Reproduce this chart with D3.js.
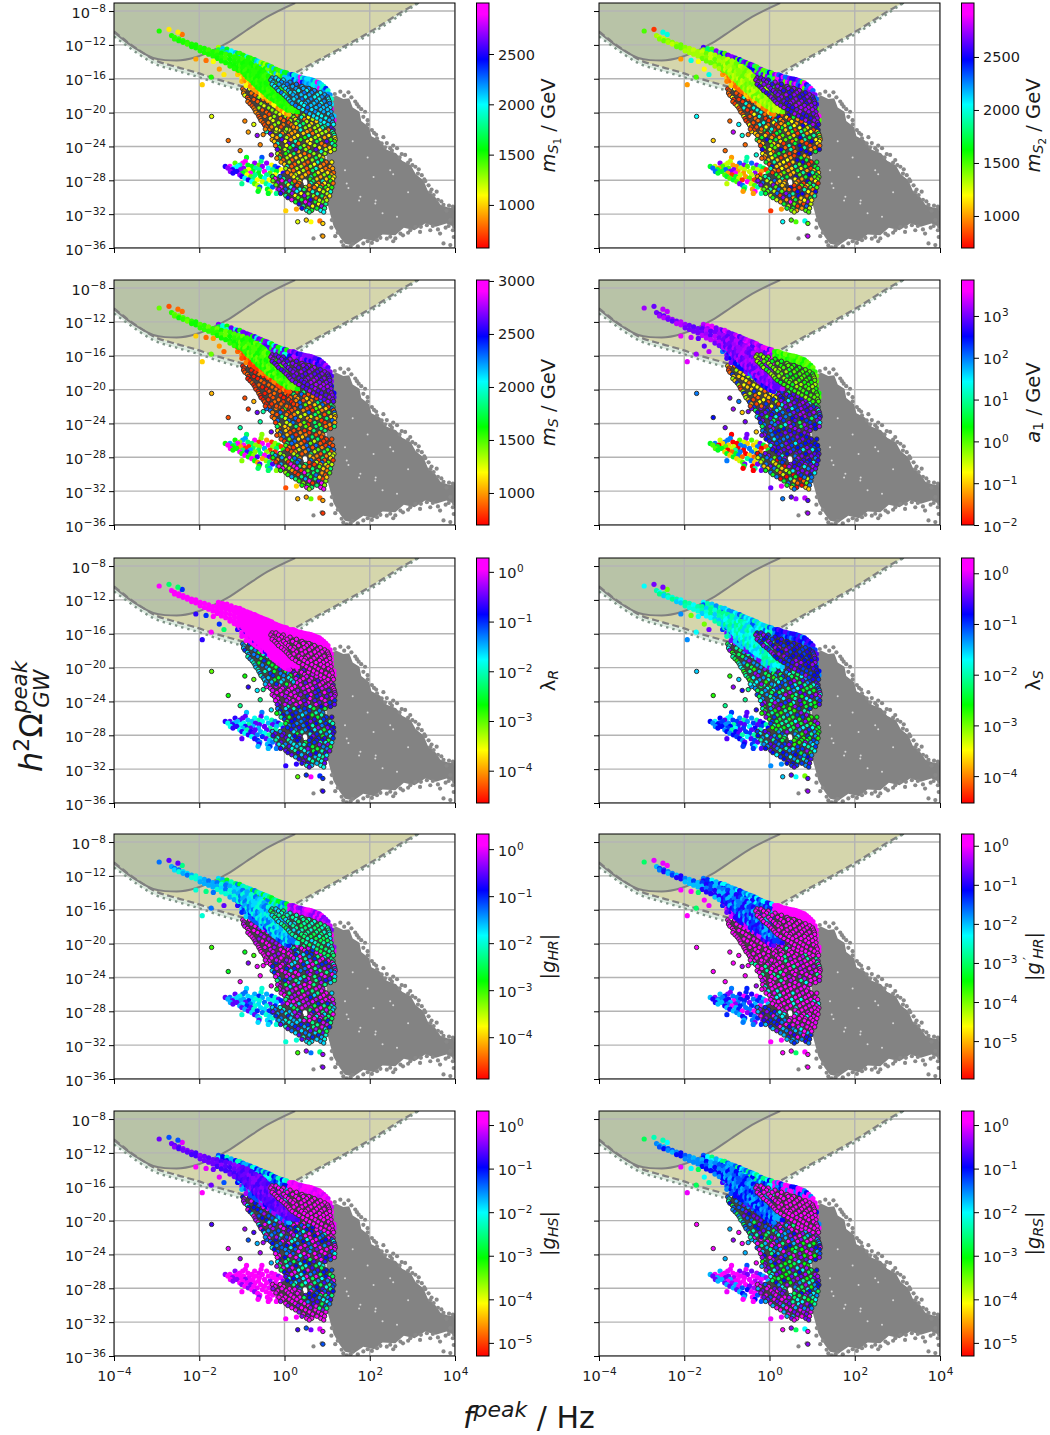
<!DOCTYPE html>
<html>
<head>
<meta charset="utf-8">
<script src="https://d3js.org/d3.v7.min.js"></script>
<style>
body { margin: 0; background: white; }
svg text { font-family: "DejaVu Sans", sans-serif; fill: #1a1a1a; }
</style>
</head>
<body>
<div id="chart"></div>
<script>
// all positions below are log10(f) and log10(h2 Omega)
var xTicks = [-4, -2, 0, 2, 4];
var yTicks = [-8, -12, -16, -20, -24, -28, -32, -36];

// sensitivity curves
var solidCurve = [[-4, -10.5], [-3.7, -11.7], [-3.39, -12.75], [-3.08, -13.55], [-2.8, -13.8], [-2.53, -13.85], [-2.05, -13.4], [-1.5, -12.2], [-1.35, -11.8], [-0.9, -10.3], [-0.41, -8.7], [0.25, -7.05]];
var dashedCurve = [[-4, -10.4], [-3.7, -11.6], [-3.39, -12.7], [-3.08, -13.7], [-2.53, -14.6], [-2.05, -15.3], [-1.75, -15.8], [-1.35, -16.4], [-0.6, -17.2], [-0.2, -16.6], [0.29, -15.2], [2.01, -10.45], [3.07, -7.2], [3.15, -7.0]];
var dottedCurve = [[-4, -11], [-3.7, -12.1], [-3.39, -13.2], [-3.08, -14.15], [-2.53, -15.05], [-2.05, -15.75], [-1.35, -16.9], [-0.6, -17.7], [-0.1, -17.2], [0.44, -15.2], [2.17, -10.25], [3.14, -7.05]];

// grey points: the solid inside of the cloud and its loose edge
var greyOutline = [[1, -18.3], [1.22, -18], [1.38, -18.4], [1.52, -18.3], [1.6, -19.4], [1.76, -19.9], [1.8, -21], [1.98, -21.7], [2.04, -22.8], [2.24, -23.3], [2.4, -24.4], [2.62, -24.8], [2.76, -25.7], [2.96, -26.2], [3.08, -27.3], [3.26, -28], [3.36, -29.2], [3.54, -30], [3.66, -30.9], [3.84, -31.2], [4.02, -31.3], [4.02, -33.6], [3.8, -33.1], [3.55, -33.5], [3.3, -33.1], [3.05, -33.9], [2.8, -33.6], [2.6, -34.5], [2.3, -34.4], [2.1, -35.2], [1.85, -34.9], [1.62, -35.7], [1.42, -35.5], [1.3, -34.7], [1.15, -33.4], [1.02, -31], [0.95, -18.5]];
var greyEdge = [[1.07, -17.93], [1.31, -17.53], [1.5, -17.6], [1.66, -18.7], [1.74, -19.3], [1.89, -19.9], [1.85, -20.5], [2.05, -22.06], [2.17, -23.05], [2.32, -22.9], [2.28, -23.64], [2.48, -24.2], [2.64, -24.2], [2.83, -25], [3.07, -26.4], [3.22, -27.4], [3.38, -28.6], [3.5, -29.75], [3.73, -30.9], [3.95, -31.1], [3.57, -29.35], [3.89, -32.7], [3.97, -34.7], [3.73, -35.46], [3.65, -34.3], [3.34, -33.3], [3.07, -33.5], [2.72, -34.3], [2.48, -34.67], [2.17, -35.07], [1.85, -35.46], [1.46, -35.93], [1.34, -35.26], [1.19, -34.6], [0.68, -34.87], [0.87, -34.5], [1.11, -32.7], [3.42, -33.9], [3.18, -34.1], [2.6, -34.87], [3.89, -35.66], [1.95, -20.9], [2.15, -22.6], [2.55, -23.9], [2.95, -25.6], [3.15, -26.7], [3.45, -29.1], [3.8, -31.6], [3.95, -33.9], [2.9, -34.2], [2.05, -35.4], [1.6, -35.5], [1.25, -34.2], [2.4, -23.6], [3.3, -28.1], [2.75, -24.9], [1.18, -17.8], [1.4, -18], [1.57, -18.2], [1.7, -19], [1.8, -19.6], [1.95, -21.4], [2.1, -22.4], [2.36, -24.1], [2.52, -24.5], [2.7, -25.3], [2.9, -25.9], [3, -26.2], [3.13, -27.2], [3.28, -27.9], [3.42, -29.4], [3.6, -30.3], [3.68, -30.5], [3.86, -31], [4, -31.4], [3.98, -33.5], [3.85, -33.4], [3.6, -33.8], [3.48, -33.4], [3.2, -33.5], [2.95, -33.9], [2.78, -34.5], [2.4, -34.9], [2.25, -34.8], [1.95, -35.2], [1.72, -35.8], [1.55, -35.8], [1.38, -35.7], [1.1, -33.6], [3.78, -33.6], [2.55, -35.2]];
var greyGaps = [[1.78, -29.94], [2.13, -30.73], [1.46, -28.37], [1.42, -26.8], [2.09, -27.6], [2.48, -26.8], [2.64, -32.3], [1.6, -23.4], [1.95, -25.3], [2.9, -29.4], [1.75, -30.4], [2.3, -31.9], [1.5, -28.9], [2.14, -30.4], [2.55, -27.3]];

// unbordered points, column by column: [x, [y, y, ...]]
var streakCols = [[-2.65, [-10.9]], [-2.58, [-11.1, -11.3]], [-2.48, [-11.3, -11.5]], [-2.38, [-11.5, -11.7]], [-2.28, [-11.7, -11.9]], [-2.18, [-11.9, -12.2]], [-2.08, [-12, -12.35]], [-1.98, [-12.3, -12.7]], [-1.88, [-12.4, -12.9]], [-1.78, [-12.6, -13.1]], [-1.68, [-12.8, -13.3]], [-1.58, [-12.8, -13.2, -13.6]], [-1.48, [-13, -13.45, -13.9]], [-1.38, [-13.1, -13.6, -14.1]], [-1.28, [-13.2, -13.7, -14.2, -14.5]], [-1.18, [-13.4, -13.9, -14.4, -14.8]], [-1.08, [-13.6, -14.1, -14.6, -15]], [-1.03, [-13.9, -14.4, -14.9]], [-0.98, [-13.7, -14.2, -14.7, -15.2]], [-0.93, [-14, -14.5, -15.1, -15.5]], [-0.88, [-13.9, -14.4, -14.9, -15.4, -15.8]], [-0.83, [-14.1, -14.6, -15.1, -15.6, -16]], [-0.78, [-14.2, -14.7, -15.2, -15.7, -16.2]], [-0.73, [-14.5, -15, -15.5, -16, -16.5]], [-0.68, [-14.5, -15, -15.5, -16, -16.4, -16.7]], [-0.63, [-14.7, -15.2, -15.7, -16.2, -16.6, -17]], [-0.58, [-14.8, -15.3, -15.8, -16.3, -16.8, -17.2]], [-0.53, [-15, -15.6, -16.1, -16.6, -17.1, -17.4]], [-0.48, [-15.2, -15.7, -16.2, -16.7, -17.2, -17.6]], [-0.43, [-15.5, -16, -16.5, -17, -17.5, -17.9]], [-0.38, [-15.7, -16.2, -16.7, -17.2, -17.7, -18.1]], [-0.33, [-16, -16.5, -17, -17.5, -18, -18.3]], [-0.28, [-16.3, -16.8, -17.3, -17.8, -18.4]], [-0.23, [-16.6, -17.1, -17.6, -18.1, -18.6]], [-0.18, [-16.9, -17.4, -17.9, -18.4, -18.7]], [-0.13, [-17.2, -17.7, -18.2, -18.6, -19]], [-0.08, [-17.4, -17.9, -18.4, -18.9, -19.2]], [-0.03, [-17.8, -18.3, -18.8, -19.3]], [0.02, [-18, -18.5, -19, -19.5]], [0.07, [-18.4, -18.9, -19.4, -19.7]], [0.12, [-18.7, -19.2, -19.7]], [0.17, [-19.1, -19.6]], [0.22, [-19.3, -19.8]], [0.3, [-19.9]]];
var bandCols = [[-1.55, [-12.3, -12.6]], [-1.45, [-12.45, -12.8]], [-1.35, [-12.5, -12.9]], [-1.25, [-12.7, -13.1]], [-1.15, [-12.9, -13.3]], [-1.1, [-13, -13.45]], [-1.05, [-13, -13.5]], [-0.98, [-13.2, -13.6]], [-0.95, [-13.3, -13.7]], [-0.88, [-13.4, -13.85]], [-0.85, [-13.5, -13.95]], [-0.8, [-13.55, -14.05]], [-0.75, [-13.7, -14.2]], [-0.7, [-13.75, -14.3]], [-0.65, [-13.9, -14.4]], [-0.6, [-14, -14.5, -14.85]], [-0.55, [-14.1, -14.6, -15]], [-0.5, [-14.2, -14.7, -15.1]], [-0.45, [-14.3, -14.8, -15.25]], [-0.4, [-14.4, -14.9, -15.35]], [-0.35, [-14.5, -15, -15.4]], [-0.3, [-14.6, -15.15, -15.6]], [-0.25, [-14.8, -15.3, -15.8]], [-0.2, [-14.9, -15.4, -15.95]], [-0.15, [-15, -15.5, -16]], [-0.1, [-15.1, -15.6, -16.1, -16.5]], [-0.05, [-15.2, -15.7, -16.2, -16.7]], [0, [-15.25, -15.8, -16.3, -16.85]], [0.05, [-15.3, -15.9, -16.4, -16.9, -17.4]]];
var capCols = [[0.12, [-15.5, -16]], [0.18, [-15.5, -16.05]], [0.22, [-15.55, -16.1]], [0.27, [-15.65, -16.2]], [0.32, [-15.8, -16.3]], [0.37, [-15.8, -16.35]], [0.42, [-15.9, -16.4]], [0.47, [-15.95, -16.45]], [0.52, [-16, -16.5]], [0.57, [-16.05, -16.6]], [0.62, [-16.1, -16.6]], [0.67, [-16.2, -16.7]], [0.72, [-16.3, -16.85]], [0.77, [-16.4, -16.95]], [0.82, [-16.5, -17.1]], [0.87, [-16.7, -17.25]], [0.92, [-16.9, -17.4]], [0.97, [-17.15, -17.6]], [1.02, [-17.4, -17.8, -18.2]], [1.07, [-17.9, -18.3]], [1.1, [-18.4, -19, -19.6, -20.2]], [1.16, [-20.4, -20.9]]];
var underCols = [[-1.1, [-15, -15.5]], [-1.05, [-15.3]], [-1, [-15.3, -15.9, -16.3]], [-0.95, [-15.7, -16.1]], [-0.9, [-15.8, -16.3, -16.8]], [-0.85, [-16.1, -16.6]], [-0.8, [-16.4, -16.9]], [-0.75, [-16.7, -17.1]], [-0.7, [-16.9, -17.3]], [-0.65, [-17.1, -17.5]], [-0.6, [-17.2, -17.6]], [-0.55, [-17.5, -17.9]], [-0.5, [-17.7, -18.1]], [-0.45, [-18.1]], [-0.4, [-18.4]], [-0.35, [-18.55]], [-0.3, [-18.8]], [-0.25, [-19]], [-0.2, [-19.2]], [-0.15, [-19.45]], [-0.1, [-19.6]], [-0.05, [-19.8]], [0, [-20]], [0.05, [-20.1]], [0.1, [-20.2]]];
var fanRows = [[-25.3, [-0.89, -0.53]], [-25.75, [-0.92, -0.55]], [-25.97, [-1.16, -0.98, -0.7, -0.42]], [-26.2, [-1.05, -0.86, -0.6, -0.3]], [-26.36, [-1.39, -1.28, -1.1, -0.77, -0.52, -0.22]], [-26.55, [-1.33, -1.19, -0.96, -0.68, -0.38, -0.14]], [-26.75, [-1.22, -1.03, -0.84, -0.59, -0.28, -0.08]], [-26.95, [-1.27, -1.12, -0.92, -0.74, -0.47, -0.19]], [-27.15, [-1.21, -0.98, -0.8, -0.61, -0.34, -0.03]], [-27.35, [-1.05, -0.88, -0.69, -0.42, -0.22, 0.04]], [-27.55, [-1, -0.79, -0.56, -0.3, -0.12, 0.09]], [-27.75, [-0.93, -0.72, -0.47, -0.24, -0.02, 0.17]], [-27.95, [-0.85, -0.64, -0.36, -0.15, 0.07, 0.25]], [-28.15, [-0.77, -0.52, -0.29, -0.05, 0.14]], [-28.4, [-1, -0.7, -0.43, -0.2, 0.03, 0.22]], [-28.6, [-0.63, -0.35, -0.12, 0.1, 0.3]], [-28.8, [-0.58, -0.28, -0.04, 0.18, 0.38]], [-29.05, [-0.6, -0.4, -0.16, 0.07, 0.28]], [-29.3, [-0.62, -0.34, -0.08, 0.14, 0.42]], [-29.55, [-0.38, -0.19, 0.02, 0.24]]];

// bordered points, row by row: [y, [x, x, ...]]
var blobRows = [[-15.9, [-0.29, -0.2]], [-16.15, [-0.32, -0.14, -0.03]], [-16.4, [-0.27, -0.07, 0.13]], [-16.65, [-0.29, -0.13, 0.06, 0.28]], [-16.9, [-0.23, -0.02, 0.19, 0.41]], [-17.15, [-0.18, 0.03, 0.27, 0.44, 0.57]], [-17.4, [-0.14, 0.09, 0.33, 0.52, 0.7]], [-17.65, [-0.07, 0.14, 0.23, 0.46, 0.64, 0.84]], [-17.9, [-0.01, 0.2, 0.39, 0.58, 0.77, 0.94]], [-18.15, [0.04, 0.28, 0.49, 0.71, 0.88, 1.01]], [-18.4, [0.09, 0.22, 0.41, 0.62, 0.81, 1.03]], [-18.65, [0.13, 0.34, 0.55, 0.75, 0.93, 1.05]], [-18.9, [0.18, 0.4, 0.49, 0.69, 0.86, 1.06]], [-19.15, [0.26, 0.46, 0.62, 0.82, 0.98]], [-19.4, [0.34, 0.54, 0.74, 0.91, 1.07]], [-19.65, [0.43, 0.64, 0.85, 1.01]], [-19.9, [0.51, 0.72, 0.92, 1.09]], [-20.15, [0.59, 0.79, 1.03]], [-20.4, [0.68, 0.87, 1.1]], [-20.65, [0.76, 0.97, 1.12]], [-20.9, [0.85, 1.05]], [-21.15, [0.93, 1.13]], [-21.4, [1.02, 1.15]]];
var ridgeRows = [[-17.2, [-0.98, -0.82]], [-17.45, [-0.95, -0.73, -0.62]], [-17.7, [-0.96, -0.78, -0.55]], [-17.95, [-0.93, -0.69, -0.49]], [-18.2, [-0.87, -0.6, -0.42]], [-18.45, [-0.84, -0.72, -0.5, -0.34]], [-18.7, [-0.86, -0.63, -0.4, -0.27]], [-18.95, [-0.81, -0.55, -0.32, -0.17]], [-19.2, [-0.76, -0.48, -0.25, -0.12]], [-19.45, [-0.72, -0.6, -0.37, -0.16]], [-19.7, [-0.69, -0.52, -0.29, -0.06]], [-19.95, [-0.67, -0.42, -0.2, 0.01]], [-20.2, [-0.62, -0.36, -0.11, 0.06]], [-20.45, [-0.6, -0.46, -0.24, 0.03]], [-20.7, [-0.57, -0.33, -0.09, 0.09]], [-20.95, [-0.55, -0.27, -0.02, 0.14]], [-21.2, [-0.5, -0.38, -0.14, 0.1]], [-21.45, [-0.47, -0.23, -0.03, 0.16]], [-21.7, [-0.43, -0.3, -0.08, 0.21]], [-21.95, [-0.45, -0.19, 0.05]]];
var coreUpperRows = [[-19.3, [0.03, 0.12]], [-19.55, [0.1, 0.2]], [-19.8, [0.07, 0.27]], [-20.05, [0.18, 0.32]], [-20.3, [0.14, 0.29, 0.45]], [-20.55, [0.22, 0.4, 0.56]], [-20.8, [0.26, 0.47, 0.66]], [-21.05, [0.31, 0.52, 0.75]], [-21.3, [0.27, 0.44, 0.63, 0.84]], [-21.55, [0.36, 0.58, 0.78, 0.95]], [-21.8, [0.29, 0.49, 0.71, 0.89, 1.1]], [-22.05, [-0.36, -0.13, 0.11, 0.38, 0.6, 0.83, 1.03, 1.14]], [-22.25, [-0.42, -0.2, 0.01, 0.24, 0.53, 0.74, 0.97, 1.12]], [-22.45, [-0.33, -0.05, 0.17, 0.44, 0.66, 0.88, 1.15]], [-22.7, [-0.28, -0.1, 0.09, 0.31, 0.57, 0.79, 1.04, 1.17]], [-22.95, [-0.18, 0.05, 0.23, 0.48, 0.72, 0.94, 1.18]], [-23.2, [-0.29, -0.06, 0.15, 0.38, 0.62, 0.83, 1.09, 1.19]], [-23.4, [-0.24, 0.02, 0.26, 0.54, 0.76, 0.99, 1.17]], [-23.65, [-0.16, 0.1, 0.33, 0.6, 0.87, 1.12]], [-23.9, [-0.21, 0.05, 0.2, 0.46, 0.71, 0.95, 1.18]], [-24.15, [-0.12, 0.13, 0.37, 0.56, 0.82, 1.06]], [-24.35, [-0.17, 0.01, 0.27, 0.5, 0.74, 0.97, 1.17]]];
var coreLowerRows = [[-24.6, [-0.13, 0.08, 0.33, 0.6, 0.86, 1.08]], [-24.85, [-0.16, 0.03, 0.22, 0.47, 0.69, 0.95]], [-25.1, [-0.1, 0.13, 0.37, 0.58, 0.82]], [-25.35, [-0.12, 0.06, 0.27, 0.5, 0.74, 0.9]], [-25.6, [-0.03, 0.18, 0.42, 0.65, 0.87]], [-25.85, [-0.08, 0.11, 0.33, 0.55, 0.78, 0.98, 1.11]], [-26.1, [0, 0.24, 0.46, 0.7, 0.92]], [-26.35, [0.06, 0.17, 0.39, 0.61, 0.84, 1.07]], [-26.6, [0.03, 0.29, 0.52, 0.74, 0.97, 1.13]], [-26.85, [0.11, 0.21, 0.44, 0.66, 0.88, 1.04]], [-27.1, [0.07, 0.34, 0.56, 0.79, 1.01, 1.15]], [-27.35, [0.16, 0.26, 0.49, 0.71, 0.93, 1.1]], [-27.6, [0.22, 0.41, 0.62, 0.85, 1.06, 1.16]], [-27.85, [0.3, 0.6, 0.76, 0.98, 1.13]], [-28.1, [0.24, 0.36, 0.67, 0.9, 1.08]], [-28.35, [0.34, 0.62, 0.8, 0.94, 1.14]], [-28.6, [0.3, 0.58, 0.75, 0.88, 1.03]], [-28.85, [0.49, 0.7, 0.84, 0.97, 1.11]], [-29.1, [0.46, 0.59, 0.82, 1.02]], [-29.35, [0.66, 0.91, 1.08]], [-29.6, [0.55, 0.77, 1]], [-29.85, [0.68, 0.88, 1.06]], [-30.1, [0.74, 0.96]], [-30.35, [0.82, 0.99]]];
var tailRows = [[-27.55, [-0.28, -0.1]], [-27.8, [-0.22, -0.02]], [-28.05, [-0.27, -0.06, 0.12]], [-28.3, [-0.16, 0.04, 0.19]], [-28.55, [-0.2, 0.09, 0.27]], [-28.8, [-0.08, 0.15, 0.33]], [-29.05, [-0.13, 0.02, 0.22, 0.36]], [-29.3, [-0.04, 0.11, 0.29, 0.44]], [-29.55, [-0.09, 0.18, 0.39, 0.53]], [-29.8, [0.03, 0.25, 0.47]], [-30.05, [0.08, 0.32, 0.56]], [-30.3, [0.17, 0.4, 0.61]], [-30.55, [0.26, 0.49, 0.72, 0.9]], [-30.8, [0.34, 0.58, 0.8, 0.97]], [-31.05, [0.44, 0.66, 0.87]], [-31.3, [0.41, 0.55, 0.76, 0.94]], [-31.55, [0.52, 0.64, 0.85]], [-31.75, [0.58, 0.92]]];
// outline of where the bordered points overlap into a dark mesh
var meshOutline = [[-0.97, -17.3], [-0.85, -19], [-0.68, -20], [-0.55, -21], [-0.45, -22], [-0.3, -23], [-0.2, -24], [-0.12, -25], [-0.05, -26], [0.03, -27], [-0.25, -27.8], [-0.22, -28.5], [-0.08, -29.4], [0.1, -30], [0.3, -30.6], [0.55, -31.5], [0.9, -31.4], [1, -30.3], [1.09, -29], [1.14, -27.5], [1.1, -26], [0.92, -25.3], [1.15, -24.3], [1.17, -23], [1.13, -21.6], [1.03, -18.3], [0.6, -16.4], [-0.2, -16], [-0.3, -16.4], [-0.6, -17]];
var meshGaps = [[0.48, -28.15], [0.5, -28.45]];

// loose points in front of everything
var strayBordered = [[-1.71, -20.45], [-1.32, -23.3], [-1.04, -24.5], [-0.93, -21], [-0.85, -22.3], [-0.57, -23.8], [-0.64, -22.7], [-0.31, -25], [-0.18, -25.4], [0.31, -32.9], [0.51, -32.7], [0.9, -33.1], [0.9, -34.6], [-0.5, -22.6], [-0.72, -21.4]];
var strayPlain = [[-2.94, -10.36], [-2.71, -10.16], [-2.4, -10.76], [-2.5, -10.5], [-2.08, -13.67], [-1.84, -13.83], [-1.67, -13.95], [-1.53, -14.86], [-1.42, -15.5], [-1.72, -15.8], [-1.93, -16.7], [0.03, -31.6], [0.28, -31.4], [0.83, -32.8], [0.62, -32.9]];

// colourbar limits and ticks per panel
var barNames = ["mS1", "mS2", "mS", "a1", "lR", "lS", "gHR", "gpHR", "gHS", "gRS"];
var barLimits = [[572, 3007], [698, 3009], [698, 3009], [1e-2, 7244], [2.24e-5, 1.9], [2.95e-5, 2], [1.29e-5, 2.1], [1.07e-6, 2], [5e-6, 2.1], [5e-6, 2.1]];
var barTicks = [[1000, 1500, 2000, 2500], [1000, 1500, 2000, 2500], [1000, 1500, 2000, 2500, 3000], [1e-2, 1e-1, 1, 10, 100, 1000], [1e-4, 1e-3, 1e-2, 1e-1, 1], [1e-4, 1e-3, 1e-2, 1e-1, 1], [1e-4, 1e-3, 1e-2, 1e-1, 1], [1e-5, 1e-4, 1e-3, 1e-2, 1e-1, 1], [1e-5, 1e-4, 1e-3, 1e-2, 1e-1, 1], [1e-5, 1e-4, 1e-3, 1e-2, 1e-1, 1]];

// colour values per cluster, one list per panel
var streakVals = [[1500, 1480, 1450, 1520], [1350, 1400, 1300, 1450], [1550, 1500, 1450, 1600], [1000, 1500, 800, 2000], [1.5, 1.3, 1.8], [0.01, 0.015, 0.008, 0.02, 0.03], [0.03, 0.02, 0.05, 0.01], [0.01, 0.02, 0.04, 0.1], [0.3, 0.4, 0.25, 0.2], [0.03, 0.05, 0.02, 0.1]];
var bandVals = [[1250, 1500, 2000, 2200, 2100, 1700, 1350, 1600, 1450], [2600, 2700, 2200, 1800, 1400, 2500, 1500], [2700, 2650, 2500, 2000, 1700, 2600, 1600], [2000, 1000, 4000, 1500, 700, 3000], [1.5, 1.6, 1.3], [0.02, 0.05, 0.01, 0.08, 0.03], [0.02, 0.008, 0.03, 0.004, 0.05, 0.002], [0.02, 0.01, 0.05, 0.1, 0.005], [0.05, 0.02, 0.1, 0.01, 0.005], [0.05, 0.02, 0.01, 0.1, 0.003]];
var capVals = [[2200, 2050, 2400, 2100, 2850, 1900], [2700, 2550, 2900, 1500, 2300], [2700, 2800, 2500, 2600], [1.5, 1, 2, 1.2, 0.8], [1.5, 1.3], [0.1, 0.2, 0.15, 0.05, 0.3], [0.8, 1.2, 0.5, 1, 0.4], [1.5, 1.2, 1.3, 1.5], [1.5, 1.2, 1, 0.8], [1, 0.1, 0.03, 1.4, 1.2]];
var underVals = [[850, 900, 950, 1000, 1100], [900, 950, 1000, 1100], [800, 850, 900, 950], [300, 600, 100, 1000], [1.2, 1, 0.2, 1.4], [0.03, 0.01, 0.1, 0.4], [0.06, 0.1, 0.2, 0.02], [0.1, 0.2, 0.05, 0.7], [0.05, 0.02, 0.1, 0.5], [0.1, 0.03, 0.2, 0.05]];
var blobVals = [[2150, 2200, 2100, 2050, 2250, 2000], [2700, 2750, 2650, 2550], [2700, 2750, 2650, 2620], [1, 2, 1.5, 0.5, 1, 3, 1.2], [1.5, 1.3, 1.6], [0.15, 0.2, 0.5, 0.25, 0.1], [0.006, 0.01, 0.003, 0.02, 0.008, 0.004], [1.5, 1.2, 1.4], [1.5, 1.2, 1.4, 1.3], [1.3, 1.1, 1.4]];
var ridgeVals = [[750, 800, 850, 1150, 720, 1300], [800, 850, 900, 1200, 2000], [750, 800, 850, 900], [0.1, 0.5, 0.02, 0.03, 200, 0.2], [0.05, 0.01, 0.03, 0.1, 0.02, 0.003], [0.005, 0.01, 0.02, 0.5, 0.002, 0.05], [1.3, 1, 0.8, 1.5, 0.5], [1.4, 1.2, 1.5, 1.3], [0.1, 1, 0.03, 0.5, 0.2, 0.01, 0.05], [0.05, 0.03, 0.005, 0.1, 0.002, 0.3]];
var coreUpperVals = [[800, 1000, 1250, 1500, 1100, 900, 1700, 1050, 1300, 2600, 1900], [800, 1000, 1200, 1500, 1700, 900, 1900, 2500, 1100], [800, 950, 1100, 1300, 850, 1000, 1500, 1800, 2300], [200, 500, 1000, 100, 700, 30, 300, 1500, 5, 1000], [1, 0.8, 0.5, 1.2, 0.1, 0.3, 1], [0.02, 0.005, 0.6, 0.01, 0.1, 0.003, 0.3, 0.05], [1, 0.1, 0.05, 0.8, 0.02, 0.3, 0.005, 1.2], [1.4, 1.2, 1.5, 1, 1.3, 0.5, 0.002], [1.2, 0.1, 1, 0.03, 0.008, 0.3, 1.4, 0.05], [1, 1.3, 0.1, 0.003, 0.05, 0.001, 0.4, 0.02]];
var coreLowerVals = [[800, 1000, 1250, 1500, 1100, 900, 1700, 1050, 1300, 1900, 760], [800, 1000, 1200, 1500, 1700, 900, 1900, 2500, 1100], [800, 950, 1100, 1300, 850, 1000, 1500, 1800, 2300], [500, 1000, 100, 700, 300, 1500, 30, 1000, 200], [0.1, 0.05, 0.02, 0.2, 0.01, 0.4, 0.003, 0.15], [0.002, 0.01, 0.05, 0.003, 0.5, 0.02, 0.1, 0.004], [1.2, 0.8, 0.003, 0.02, 1, 0.1, 0.005, 0.6], [1.4, 1.2, 1.5, 1.3, 1, 1.4, 0.8, 0.005], [0.1, 0.01, 0.003, 0.05, 0.002, 0.03, 0.2, 1], [0.002, 0.001, 0.03, 0.1, 0.5, 0.004, 0.01, 0.3]];
var fanVals = [[1600, 2000, 2700, 1200, 2900, 1800, 2300, 1100, 1400, 2500], [1000, 1500, 2300, 2900, 1300, 1900, 800, 2700, 1700], [1800, 2900, 1000, 2200, 1400, 2600, 800, 1600], [0.01, 0.1, 1, 10, 100, 1000, 0.03, 0.3, 3], [0.03, 0.015, 0.1, 0.3, 0.05, 0.008, 0.2], [0.1, 0.05, 0.02, 0.3, 0.01, 0.15], [0.02, 0.03, 0.05, 0.01, 0.1, 0.3], [0.02, 0.1, 0.3, 0.05, 1, 0.01], [1.5, 1.3, 1.1, 1.7, 1, 0.4], [1.3, 0.3, 0.1, 1, 0.05, 0.5, 0.02]];
var strayBorderedVals = [[1150, 2700, 2100, 850, 800, 1000, 900], [2050, 2000, 2500, 900, 1100, 1500, 2800], [1050, 2650, 1900, 850, 1000, 800], [100, 0.1, 200, 1000, 300, 700, 1500], [0.001, 0.02, 0.006, 0.002, 0.1, 0.2], [0.03, 0.2, 0.008, 0.002, 0.3, 0.5], [0.001, 1, 1.2, 0.002, 0.5, 0.4], [1.2, 0.4, 1.3, 1.1, 1.2], [0.2, 0.02, 0.5, 0.9, 0.05], [1.3, 1.1, 0.02, 1, 0.4]];
var strayPlainVals = [[1500, 1100, 900, 800, 1050, 850, 1000, 900], [1500, 1200, 2000, 800, 1000], [1450, 1000, 900, 850, 1100], [1500, 800, 2000, 900, 3000], [1.5, 0.1, 0.005, 0.2], [0.02, 0.001, 0.4, 0.05], [0.05, 0.005, 0.3, 0.01], [0.001, 1, 0.8, 1.2], [0.3, 0.9, 0.05, 1.4], [0.002, 0.01, 0.005, 1]];

var cmapStops = [0, 0.215, 0.4, 0.586, 0.77, 0.954, 1];
var cmapColors = ["#ff0000", "#ffff00", "#00ff00", "#00ffff", "#0000ff", "#ff00ff", "#ff00ff"];

var width = 1050,
    height = 1435,
    rowTops = [3, 280, 558, 834, 1111],
    colLefts = [114, 599],
    plotW = 341,
    plotH = 245,
    barGap = 21.5,
    barW = 12.5;

var svg = d3.select("#chart").append("svg")
    .attr("width", width)
    .attr("height", height);

var defs = svg.append("defs");

var cmap = d3.scaleLinear().domain(cmapStops).range(cmapColors);
var x = d3.scaleLinear().domain([-4, 4]).range([0, plotW]);
var y = d3.scaleLinear().domain([-36, -7.05]).range([plotH, 0]);

// panels all share one clip, the groups are translated
defs.append("clipPath").attr("id", "plot-clip")
    .append("rect").attr("width", plotW).attr("height", plotH);

// unpack [x,[y..]] columns and [y,[x..]] rows
function fromCols(cols) {
    var out = [];
    cols.forEach(function (c) { c[1].forEach(function (v) { out.push([c[0], v]); }); });
    return out;
}
function fromRows(rows) {
    var out = [];
    rows.forEach(function (r) { r[1].forEach(function (v) { out.push([v, r[0]]); }); });
    return out;
}

// 10^-12 with a raised exponent, as tspans
function powerLabel(sel, exp) {
    sel.text("");
    sel.append("tspan").attr("font-size", 14.5).text("10");
    sel.append("tspan").attr("font-size", 10.5).attr("dy", -6).attr("dx", 0.5).text(String(exp).replace("-", "\u2212"));
}

// mathtext-like label: parts are [text, italic, size, rise, dx]
function mathLabel(sel, parts) {
    var rise = 0;
    parts.forEach(function (p) {
        sel.append("tspan")
            .attr("font-style", p[1] ? "italic" : "normal")
            .attr("font-size", p[2])
            .attr("dy", rise - p[3])
            .attr("dx", p[4] || 0)
            .text(p[0]);
        rise = p[3];
    });
}

var barLabels = [
    [["m", 1, 19.5, 0], ["S", 1, 14, -3], ["1", 0, 10.5, -6], [" / GeV", 0, 19.5, 0]],
    [["m", 1, 19.5, 0], ["S", 1, 14, -3], ["2", 0, 10.5, -6], [" / GeV", 0, 19.5, 0]],
    [["m", 1, 19.5, 0], ["S", 1, 14, -3], [" / GeV", 0, 19.5, 0]],
    [["a", 1, 19.5, 0], ["1", 0, 14, -3], [" / GeV", 0, 19.5, 0]],
    [["\u03bb", 0, 19.5, 0], ["R", 1, 14, -3]],
    [["\u03bb", 0, 19.5, 0], ["S", 1, 14, -3]],
    [["|", 0, 19.5, 0], ["g", 1, 19.5, 0], ["HR", 1, 14, -3], ["|", 0, 19.5, 0]],
    [["|", 0, 19.5, 0], ["g", 1, 19.5, 0], ["\u2032", 0, 14, 7, 2], ["HR", 1, 14, -3, -2], ["|", 0, 19.5, 0]],
    [["|", 0, 19.5, 0], ["g", 1, 19.5, 0], ["HS", 1, 14, -3], ["|", 0, 19.5, 0]],
    [["|", 0, 19.5, 0], ["g", 1, 19.5, 0], ["RS", 1, 14, -3], ["|", 0, 19.5, 0]]
];

var curveLine = d3.line().x(function (d) { return x(d[0]); }).y(function (d) { return y(d[1]); }).curve(d3.curveMonotoneX);
var plainLine = d3.line().x(function (d) { return x(d[0]); }).y(function (d) { return y(d[1]); });
var closedLine = d3.line().x(function (d) { return x(d[0]); }).y(function (d) { return y(d[1]); }).curve(d3.curveLinearClosed);

function drawPanel(i) {
    var row = Math.floor(i / 2),
        col = i % 2,
        left = colLefts[col],
        top = rowTops[row],
        g = svg.append("g").attr("transform", "translate(" + left + "," + top + ")");

    var logBar = i > 2;
    var barScale = (logBar ? d3.scaleLog() : d3.scaleLinear()).domain(barLimits[i]).range([0, 1]);
    // spread the read colour values over a cluster so they do not form stripes
    function colour(vals, k) {
        var n = vals[i].length,
            pick = Math.floor(((k * k * 0.6180339) % 1) * n);
        return cmap(barScale(vals[i][pick]));
    }

    var plot = g.append("g").attr("clip-path", "url(#plot-clip)");

    // filled regions above the curves
    plot.append("path").attr("fill", "#d5d6ac")
        .attr("d", plainLine([[3.2, -7], [-4, -7]]) + "L" + curveLine(dashedCurve).slice(1) + "Z");
    plot.append("path").attr("fill", "#b8c3a7")
        .attr("d", curveLine(solidCurve) + "L" + x(-4) + "," + y(-7) + "Z");
    // pale band between dashed and dotted
    plot.append("path").attr("fill", "#dcebdf")
        .attr("d", curveLine(dashedCurve) + "L" + curveLine(dottedCurve.slice().reverse()).slice(1) + "Z");

    // grid
    plot.selectAll(".gx").data(xTicks).enter().append("line")
        .attr("x1", x).attr("x2", x).attr("y1", 0).attr("y2", plotH)
        .attr("stroke", "#b4b4b4").attr("stroke-width", 1.4);
    plot.selectAll(".gy").data(yTicks).enter().append("line")
        .attr("y1", y).attr("y2", y).attr("x1", 0).attr("x2", plotW)
        .attr("stroke", "#b4b4b4").attr("stroke-width", 1.4);

    plot.append("path").attr("d", curveLine(solidCurve))
        .attr("fill", "none").attr("stroke", "#808080").attr("stroke-width", 2);
    plot.append("path").attr("d", curveLine(dashedCurve))
        .attr("fill", "none").attr("stroke", "#808080").attr("stroke-width", 2.2).attr("stroke-dasharray", "7,3.5");
    plot.append("path").attr("d", curveLine(dottedCurve))
        .attr("fill", "none").attr("stroke", "#7f9488").attr("stroke-width", 2.4).attr("stroke-dasharray", "2.4,4");

    // grey cloud
    plot.append("path").attr("fill", "#838383").attr("d", closedLine(greyOutline));
    plot.selectAll(".edge").data(greyEdge).enter().append("circle")
        .attr("cx", function (d) { return x(d[0]); }).attr("cy", function (d) { return y(d[1]); })
        .attr("r", 2.1).attr("fill", "#888888");
    plot.selectAll(".gap").data(greyGaps).enter().append("circle")
        .attr("cx", function (d) { return x(d[0]); }).attr("cy", function (d) { return y(d[1]); })
        .attr("r", 1).attr("fill", "#d8d8d8");

    function dots(data, vals, bordered) {
        plot.append("g").selectAll("circle").data(data).enter().append("circle")
            .attr("cx", function (d) { return x(d[0]); })
            .attr("cy", function (d) { return y(d[1]); })
            .attr("r", bordered ? 2.2 : 2.6)
            .attr("fill", function (d, k) { return colour(vals, k); })
            .attr("stroke", bordered ? "#333333" : "none")
            .attr("stroke-width", bordered ? 1 : 0);
    }

    dots(fromRows(fanRows), fanVals, false);
    plot.append("path").attr("fill", "#444444").attr("d", closedLine(meshOutline));
    plot.selectAll(".meshgap").data(meshGaps).enter().append("circle")
        .attr("cx", function (d) { return x(d[0]); }).attr("cy", function (d) { return y(d[1]); })
        .attr("r", 2.2).attr("fill", "#ffffff");
    dots(fromRows(tailRows), fanVals, true);
    dots(fromRows(coreLowerRows), coreLowerVals, true);
    dots(fromRows(coreUpperRows), coreUpperVals, true);
    dots(fromRows(ridgeRows), ridgeVals, true);
    dots(fromCols(underCols), underVals, false);
    dots(fromCols(bandCols), bandVals, false);
    dots(fromCols(capCols), capVals, false);
    dots(fromCols(streakCols), streakVals, false);
    dots(fromRows(blobRows), blobVals, true);
    dots(strayPlain, strayPlainVals, false);
    dots(strayBordered, strayBorderedVals, true);

    // axes
    var xAxis = d3.axisBottom(x).tickValues(xTicks).tickSize(5).tickPadding(3);
    var gx = g.append("g").attr("transform", "translate(0," + plotH + ")").call(xAxis);
    var yAxis = d3.axisLeft(y).tickValues(yTicks).tickSize(5).tickPadding(3);
    var gy = g.append("g").call(yAxis);

    [gx, gy].forEach(function (a) {
        a.select(".domain").remove();
        a.selectAll("line").attr("stroke", "#000").attr("stroke-width", 1);
    });
    gx.selectAll("text").each(function (d) {
        if (row === 4) { powerLabel(d3.select(this).attr("y", 11).attr("dy", 14), d); }
        else { d3.select(this).remove(); }
    });
    gy.selectAll("text").each(function (d) {
        if (col === 0) { powerLabel(d3.select(this).attr("dy", 6), d); }
        else { d3.select(this).remove(); }
    });

    g.append("rect").attr("width", plotW).attr("height", plotH)
        .attr("fill", "none").attr("stroke", "#000").attr("stroke-width", 1);

    // colourbar
    var gid = "bar-" + barNames[i];
    var grad = defs.append("linearGradient").attr("id", gid)
        .attr("x1", 0).attr("y1", 1).attr("x2", 0).attr("y2", 0);
    grad.selectAll("stop").data(cmapStops).enter().append("stop")
        .attr("offset", function (d) { return d; })
        .attr("stop-color", function (d) { return cmap(d); });

    var bar = g.append("g").attr("transform", "translate(" + (plotW + barGap) + ",0)");
    bar.append("rect").attr("width", barW).attr("height", plotH)
        .attr("fill", "url(#" + gid + ")").attr("stroke", "#000").attr("stroke-width", 1);

    var barPx = (logBar ? d3.scaleLog() : d3.scaleLinear()).domain(barLimits[i]).range([plotH, 0]);
    var barAxis = d3.axisRight(barPx).tickValues(barTicks[i]).tickSize(5).tickPadding(4);
    var gb = bar.append("g").attr("transform", "translate(" + barW + ",0)").call(barAxis);
    gb.select(".domain").remove();
    gb.selectAll("line").attr("stroke", "#000").attr("stroke-width", 1);
    gb.selectAll("text").each(function (d) {
        if (logBar) { powerLabel(d3.select(this).attr("dy", 6), Math.round(Math.log10(d))); }
        else { d3.select(this).attr("font-size", 14.5).attr("dy", 5).text(d); }
    });

    // colourbar label, rotated
    var lab = g.append("text")
        .attr("transform", "translate(" + (plotW + 100) + "," + (plotH / 2) + ") rotate(-90)")
        .attr("text-anchor", "middle");
    mathLabel(lab, barLabels[i]);
}

d3.range(10).forEach(drawPanel);

// shared axis labels
var yLab = svg.append("text")
    .attr("transform", "translate(42,772) rotate(-90)");
mathLabel(yLab, [["h", 1, 32, 0], ["2", 0, 22, 13], ["\u03a9", 0, 32, 0], ["peak", 1, 21.5, 15], ["GW", 1, 21.5, -7, -47]]);

var xLab = svg.append("text")
    .attr("transform", "translate(463,1428)");
mathLabel(xLab, [["f", 1, 30, 0], ["peak", 1, 22, 11], [" / Hz", 0, 30, 0]]);
</script>
</body>
</html>
